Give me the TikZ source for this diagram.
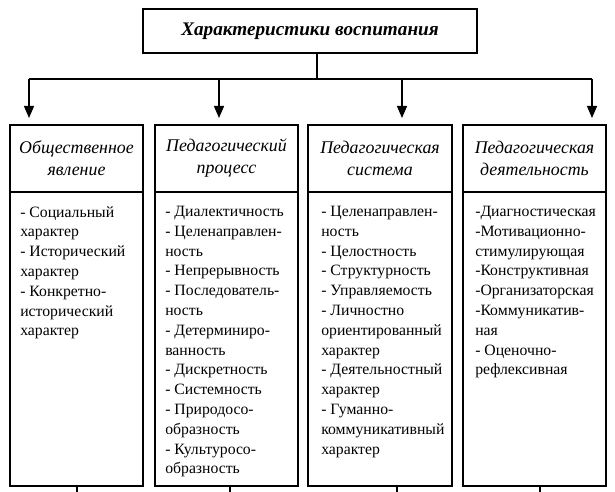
\documentclass[tikz,border=0pt]{standalone}
\usepackage{fontspec}
\setmainfont{Liberation Serif}
\usetikzlibrary{arrows.meta}

\tikzset{
	headcell/.style={draw,line width=1.4pt,inner sep=0pt,outer sep=0pt,minimum height=50.25pt,align=center,
		font=\fontsize{13.4}{16.5}\selectfont\itshape},
	bodycell/.style={draw,line width=1.4pt,inner sep=0pt,outer sep=0pt,minimum height=220.5pt},
	bodytext/.style={anchor=north west,inner sep=0pt,align=left,
		font=\fontsize{11.8}{14.85}\selectfont},
	link/.style={line width=1pt},
	down/.style={link,-{Triangle[width=7.5pt,length=9pt]}}
}

\begin{document}
\begin{tikzpicture}[x=0.75pt,y=-0.75pt]
	\useasboundingbox (0,0) rectangle (615,492);

	% title
	\node[draw,line width=2.2pt,outer sep=0pt,minimum width=250.5pt,minimum height=33pt,
		font=\fontsize{14.4}{18}\selectfont\bfseries\itshape] (title) at (310,31) {Характеристики воспитания};

	\coordinate (j) at (317,79);
	\coordinate (b1) at (29,79);
	\coordinate (b2) at (219,79);
	\coordinate (b3) at (402,79);
	\coordinate (b4) at (592,79);
	\coordinate (t1) at (29,118);
	\coordinate (t2) at (219,118);
	\coordinate (t3) at (402,118);
	\coordinate (t4) at (592,118);

	\draw[link] (j |- title.south) -- (j);
	\draw[link] (b1) -- (b4);
	\draw[down] (b1) -- (t1);
	\draw[down] (b2) -- (t2);
	\draw[down] (b3) -- (t3);
	\draw[down] (b4) -- (t4);

	% headers
	\node[headcell,minimum width=99.75pt] (head1) at (76.5,158.5) {Общественное\\явление};
	\node[headcell,minimum width=107.25pt] (head2) at (226.5,158.5) {Педагогический\\процесс};
	\node[headcell,minimum width=108pt] (head3) at (380,158.5) {Педагогическая\\система};
	\node[headcell,minimum width=107.25pt] (head4) at (534.5,158.5) {Педагогическая\\деятельность};

	% bodies
	\node[bodycell,minimum width=99.75pt,anchor=north] (body1) at (head1.south) {};
	\node[bodycell,minimum width=107.25pt,anchor=north] (body2) at (head2.south) {};
	\node[bodycell,minimum width=108pt,anchor=north] (body3) at (head3.south) {};
	\node[bodycell,minimum width=107.25pt,anchor=north] (body4) at (head4.south) {};

	\node[bodytext] (txt1) at ([shift={(10,14)}]body1.north west) {- Социальный\\характер\\- Исторический\\характер\\- Конкретно-\\исторический\\характер};
	\node[bodytext] (txt2) at ([shift={(10,14)}]body2.north west) {- Диалектичность\\- Целенаправлен-\\ность\\- Непрерывность\\- Последователь-\\ность\\- Детерминиро-\\ванность\\- Дискретность\\- Системность\\- Природосо-\\образность\\- Культуросо-\\образность};
	\node[bodytext] (txt3) at ([shift={(13,14)}]body3.north west) {- Целенаправлен-\\ность\\- Целостность\\- Структурность\\- Управляемость\\- Личностно\\ориентированный\\характер\\- Деятельностный\\характер\\- Гуманно-\\коммуникативный\\характер};
	\node[bodytext] (txt4) at ([shift={(12,14)}]body4.north west) {-Диагностическая\\-Мотивационно-\\стимулирующая\\-Конструктивная\\-Организаторская\\-Коммуникатив-\\ная\\- Оценочно-\\рефлексивная};

	% stubs below
	\coordinate (s1) at (77,492);
	\coordinate (s2) at (230,492);
	\coordinate (s3) at (397,492);
	\coordinate (s4) at (540,492);
	\draw[link] (s1 |- body1.south) -- (s1);
	\draw[link] (s2 |- body2.south) -- (s2);
	\draw[link] (s3 |- body3.south) -- (s3);
	\draw[link] (s4 |- body4.south) -- (s4);
\end{tikzpicture}
\end{document}
